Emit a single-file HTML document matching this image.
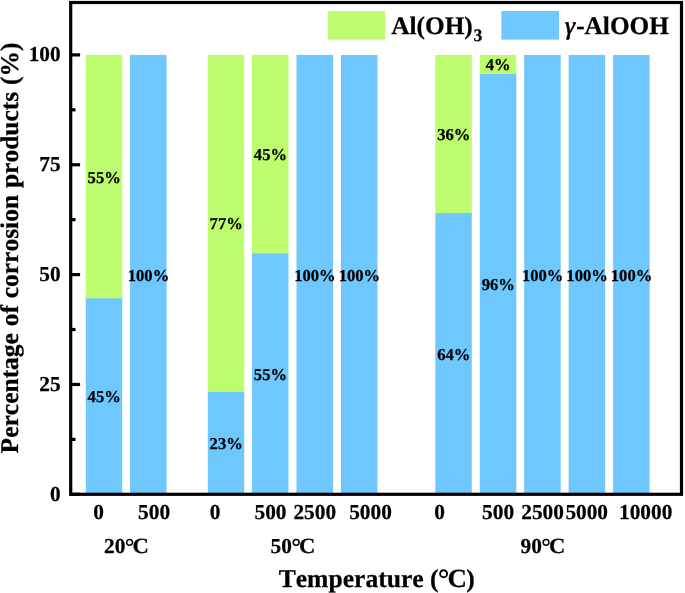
<!DOCTYPE html>
<html><head><meta charset="utf-8"><title>chart</title>
<style>html,body{margin:0;padding:0;background:#fff;}svg{display:block;will-change:transform;transform:translateZ(0);}text{font-family:"Liberation Serif",serif;font-weight:bold;fill:#000;stroke:#000;stroke-width:0.25px;font-kerning:none;font-variant-ligatures:none;text-rendering:geometricPrecision;}</style></head>
<body>
<svg width="685" height="593" viewBox="0 0 685 593">
<rect x="85.75" y="297" width="36.5" height="197.30" fill="#6EC8FD"/>
<rect x="85.75" y="54.9" width="36.5" height="243.43" fill="#BDFB6F"/>
<rect x="130.05" y="54.9" width="36.5" height="439.40" fill="#6EC8FD"/>
<rect x="207.75" y="390" width="36.5" height="104.30" fill="#6EC8FD"/>
<rect x="207.75" y="54.9" width="36.5" height="337.02" fill="#BDFB6F"/>
<rect x="252.0" y="252" width="36.5" height="242.30" fill="#6EC8FD"/>
<rect x="252.0" y="54.9" width="36.5" height="198.61" fill="#BDFB6F"/>
<rect x="296.5" y="54.9" width="36.5" height="439.40" fill="#6EC8FD"/>
<rect x="340.95" y="54.9" width="36.5" height="439.40" fill="#6EC8FD"/>
<rect x="435.3" y="212" width="36.5" height="282.30" fill="#6EC8FD"/>
<rect x="435.3" y="54.9" width="36.5" height="158.18" fill="#BDFB6F"/>
<rect x="479.8" y="73" width="36.5" height="421.30" fill="#6EC8FD"/>
<rect x="479.8" y="54.9" width="36.5" height="19.11" fill="#BDFB6F"/>
<rect x="524.2" y="54.9" width="36.5" height="439.40" fill="#6EC8FD"/>
<rect x="568.65" y="54.9" width="36.5" height="439.40" fill="#6EC8FD"/>
<rect x="613.1" y="54.9" width="36.5" height="439.40" fill="#6EC8FD"/>
<rect x="70.7" y="2.5" width="610.8" height="491.8" fill="none" stroke="#000" stroke-width="3.2"/>
<line x1="70.7" x2="80.1" y1="494.30" y2="494.30" stroke="#000" stroke-width="3.2"/>
<line x1="70.7" x2="80.1" y1="384.45" y2="384.45" stroke="#000" stroke-width="3.2"/>
<line x1="70.7" x2="80.1" y1="274.60" y2="274.60" stroke="#000" stroke-width="3.2"/>
<line x1="70.7" x2="80.1" y1="164.75" y2="164.75" stroke="#000" stroke-width="3.2"/>
<line x1="70.7" x2="80.1" y1="54.90" y2="54.90" stroke="#000" stroke-width="3.2"/>
<line x1="70.7" x2="75.5" y1="439.38" y2="439.38" stroke="#000" stroke-width="3.2"/>
<line x1="70.7" x2="75.5" y1="329.52" y2="329.52" stroke="#000" stroke-width="3.2"/>
<line x1="70.7" x2="75.5" y1="219.67" y2="219.67" stroke="#000" stroke-width="3.2"/>
<line x1="70.7" x2="75.5" y1="109.82" y2="109.82" stroke="#000" stroke-width="3.2"/>
<text x="60.6" y="500.80" font-size="21.3" text-anchor="end">0</text>
<text x="60.6" y="390.95" font-size="21.3" text-anchor="end">25</text>
<text x="60.6" y="281.10" font-size="21.3" text-anchor="end">50</text>
<text x="60.6" y="171.25" font-size="21.3" text-anchor="end">75</text>
<text x="60.6" y="61.40" font-size="21.3" text-anchor="end">100</text>
<text x="104.20" y="402.41" font-size="16.6" text-anchor="middle">45%</text>
<text x="104.20" y="182.71" font-size="16.6" text-anchor="middle">55%</text>
<text x="148.50" y="280.70" font-size="16.6" text-anchor="middle">100%</text>
<text x="226.20" y="449.21" font-size="16.6" text-anchor="middle">23%</text>
<text x="226.20" y="229.11" font-size="16.6" text-anchor="middle">77%</text>
<text x="270.45" y="380.00" font-size="16.6" text-anchor="middle">55%</text>
<text x="270.45" y="160.30" font-size="16.6" text-anchor="middle">45%</text>
<text x="314.95" y="280.70" font-size="16.6" text-anchor="middle">100%</text>
<text x="359.40" y="280.70" font-size="16.6" text-anchor="middle">100%</text>
<text x="453.75" y="359.79" font-size="16.6" text-anchor="middle">64%</text>
<text x="453.75" y="140.09" font-size="16.6" text-anchor="middle">36%</text>
<text x="498.25" y="290.26" font-size="16.6" text-anchor="middle">96%</text>
<text x="498.25" y="69.76" font-size="16.6" text-anchor="middle">4%</text>
<text x="542.65" y="280.70" font-size="16.6" text-anchor="middle">100%</text>
<text x="587.10" y="280.70" font-size="16.6" text-anchor="middle">100%</text>
<text x="631.55" y="280.70" font-size="16.6" text-anchor="middle">100%</text>
<text x="98.6" y="519.0" font-size="21.3" text-anchor="middle">0</text>
<text x="154.1" y="519.0" font-size="21.3" text-anchor="middle">500</text>
<text x="215.2" y="519.0" font-size="21.3" text-anchor="middle">0</text>
<text x="270.5" y="519.0" font-size="21.3" text-anchor="middle">500</text>
<text x="314.75" y="519.0" font-size="21.3" text-anchor="middle">2500</text>
<text x="370.5" y="519.0" font-size="21.3" text-anchor="middle">5000</text>
<text x="439.7" y="519.0" font-size="21.3" text-anchor="middle">0</text>
<text x="498.1" y="519.0" font-size="21.3" text-anchor="middle">500</text>
<text x="542.6" y="519.0" font-size="21.3" text-anchor="middle">2500</text>
<text x="586.7" y="519.0" font-size="21.3" text-anchor="middle">5000</text>
<text x="645.7" y="519.0" font-size="21.3" text-anchor="middle">10000</text>
<text x="104.00" y="552.80" font-size="21.3">20</text><circle cx="129.56" cy="542.35" r="2.92" fill="none" stroke="#000" stroke-width="1.49"/><text transform="translate(132.46,552.80) scale(1.04,1)" font-size="21.73">C</text>
<text x="270.60" y="552.80" font-size="21.3">50</text><circle cx="296.16" cy="542.35" r="2.92" fill="none" stroke="#000" stroke-width="1.49"/><text transform="translate(299.06,552.80) scale(1.04,1)" font-size="21.73">C</text>
<text x="520.50" y="552.80" font-size="21.3">90</text><circle cx="546.06" cy="542.35" r="2.92" fill="none" stroke="#000" stroke-width="1.49"/><text transform="translate(548.96,552.80) scale(1.04,1)" font-size="21.73">C</text>
<text x="278.7" y="586.7" font-size="25.6">Temperature (</text>
<circle cx="443.6" cy="573.7" r="3.5" fill="none" stroke="#000" stroke-width="1.85"/>
<text transform="translate(447.39,586.70) scale(1.03,1)" font-size="26.10">C</text>
<text x="466.2" y="586.7" font-size="25.6">)</text>
<text transform="translate(18.2,453.4) rotate(-90)" font-size="25.5" word-spacing="0.4">Percentage of corrosion products (%)</text>
<rect x="327.9" y="11" width="57.3" height="28.6" fill="#BDFB6F"/>
<rect x="501.4" y="11" width="57.6" height="28.6" fill="#6EC8FD"/>
<text x="391.3" y="33.5" font-size="25.3">Al(OH)<tspan dy="7.3" dx="0.7" font-size="17.6">3</tspan></text>
<text x="565.3" y="33.5" font-size="25.3"><tspan font-style="italic" font-weight="normal" stroke-width="0.7" dx="-0.4">γ</tspan><tspan dx="1.3">-AlOOH</tspan></text>
</svg></body></html>
